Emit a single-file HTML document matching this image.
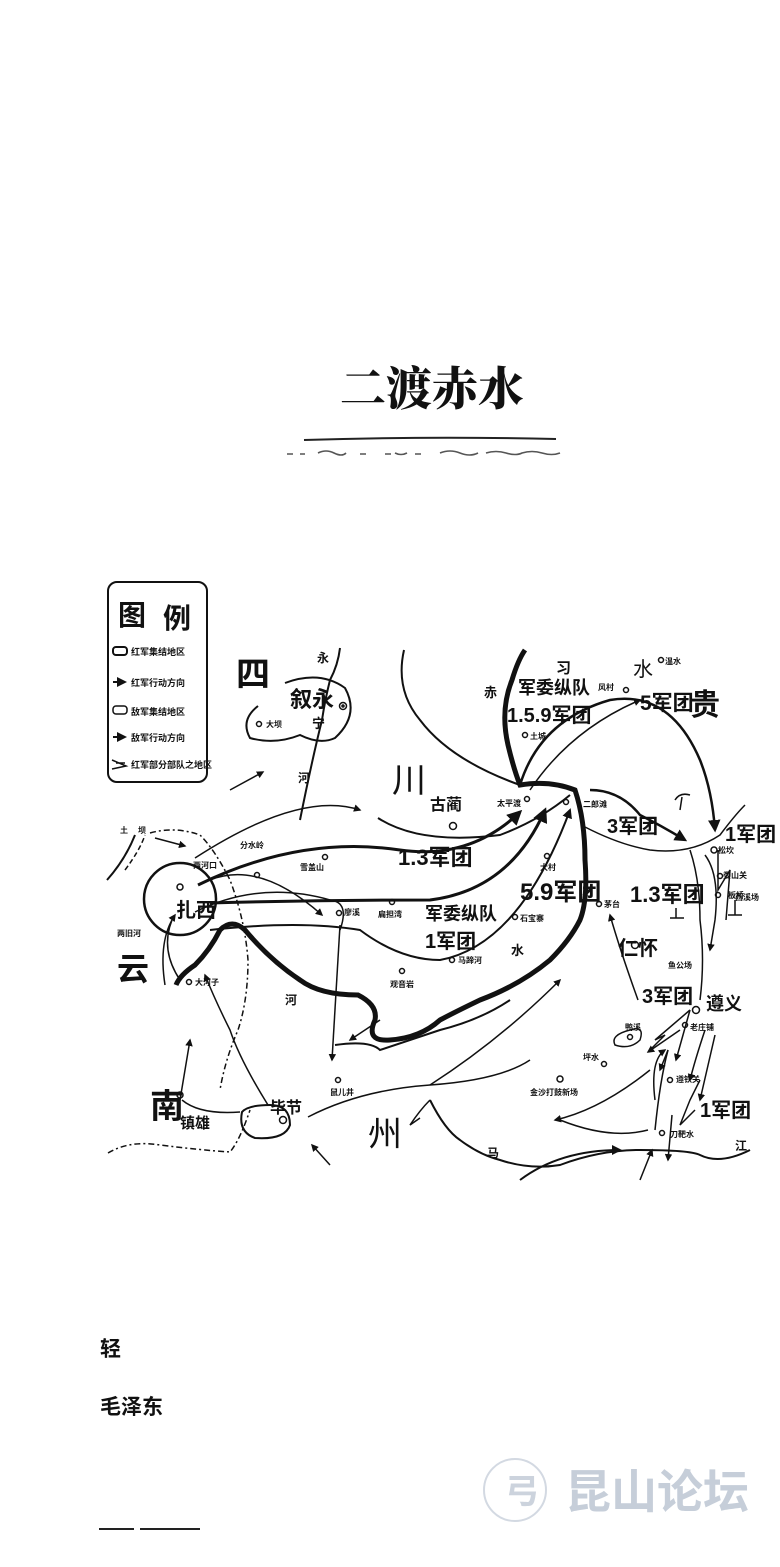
<!DOCTYPE html>
<html><head><meta charset="utf-8"><style>
html,body{margin:0;padding:0;background:#fff;}
svg{display:block}
text{font-family:"Liberation Sans","Noto Sans CJK SC",sans-serif;fill:#111;font-weight:bold}
</style></head><body>
<svg width="780" height="1567" viewBox="0 0 780 1567" xmlns="http://www.w3.org/2000/svg">
<defs>
<marker id="a" viewBox="0 0 10 10" refX="8" refY="5" markerWidth="5" markerHeight="5" orient="auto"><path d="M0,0L10,5L0,10z" fill="#111"/></marker>
</defs>
<rect width="780" height="1567" fill="#fff"/>
<!-- title -->
<text x="432" y="405" font-size="46" text-anchor="middle" style="font-family:'Noto Serif CJK SC',serif;font-weight:900">二渡赤水</text>
<path d="M304,440 Q430,436 556,439" stroke="#222" stroke-width="2" fill="none"/>
<path d="M287,454h6M300,454h5M318,453q8,-4 16,0t12,0M360,454h6M385,454h6M395,453q6,3 12,0M415,454h6M440,453q10,-4 20,0t18,0M486,453q10,-3 20,0t16,0q10,-3 20,0t18,0" stroke="#555" stroke-width="1.6" fill="none"/>

<!-- legend -->
<rect x="108" y="582" width="99" height="200" rx="9" fill="none" stroke="#111" stroke-width="2"/>
<text x="118" y="625" font-size="28">图</text><text x="163" y="628" font-size="28">例</text>
<g font-size="9" style="font-weight:900">
<rect x="113" y="647" width="14" height="8" rx="3" fill="none" stroke="#111" stroke-width="2"/><text x="131" y="655">红军集结地区</text>
<path d="M113,682h12" stroke="#111" stroke-width="2" marker-end="url(#a)"/><text x="131" y="686">红军行动方向</text>
<rect x="113" y="706" width="14" height="8" rx="3" fill="none" stroke="#111" stroke-width="1.5"/><text x="131" y="715">敌军集结地区</text>
<path d="M113,737h12" stroke="#111" stroke-width="2" marker-end="url(#a)"/><text x="131" y="741">敌军行动方向</text>
<path d="M112,760l14,6l-14,3M116,763h9" stroke="#111" stroke-width="1.5" fill="none"/><text x="131" y="768">红军部分部队之地区</text>
</g>

<g fill="none" stroke="#111">
<path d="M258,706 Q240,720 250,738 Q275,745 300,735 Q320,745 335,738 Q360,715 345,688 Q320,670 285,683" stroke-width="2"/>
<path d="M340,648 Q338,665 330,680 Q325,700 322,720 Q312,760 300,820" stroke-width="2"/>
<path d="M404,650 Q395,690 420,720 Q450,760 520,785" stroke-width="2"/>
<path d="M378,818 Q420,845 500,835 Q540,820 570,795" stroke-width="2"/>
<path d="M525,650 Q518,660 512,680 Q500,710 508,745 Q514,770 520,785 Q550,780 575,790 Q585,820 585,860 Q588,900 580,920 Q570,940 550,960 Q520,985 480,1000 Q455,1012 440,1020 Q420,1038 390,1040 Q365,1042 375,1020 Q378,1005 358,995 Q320,995 300,980 Q270,960 245,930 Q232,918 220,930 Q210,950 195,965 Q180,975 176,985" stroke-width="5"/>
<path d="M335,1045 Q370,1040 380,1050 Q410,1040 440,1030 Q480,1020 510,1000" stroke-width="2"/>
<circle cx="180" cy="899" r="36" stroke-width="2.5"/>
<path d="M198,885 Q300,835 400,850 Q470,860 520,812" stroke-width="3" marker-end="url(#a)"/>
<path d="M210,903 Q320,900 430,900 Q510,890 545,810" stroke-width="3" marker-end="url(#a)"/>
<path d="M210,930 Q300,920 360,930 Q400,960 440,960 Q520,945 570,810" stroke-width="2" marker-end="url(#a)"/>
<path d="M195,912 Q260,880 330,900 Q350,902 340,930" stroke-width="1.5"/>
<path d="M210,880 Q260,860 322,915" stroke-width="1.5" marker-end="url(#a)"/>
<path d="M195,858 Q300,790 360,810" stroke-width="1.5" marker-end="url(#a)"/>
<path d="M230,790 L263,772" stroke-width="1.5" marker-end="url(#a)"/>
<path d="M150,833 Q175,826 200,835 Q215,850 230,880 Q245,920 248,960 Q248,1000 238,1030 Q225,1060 220,1090" stroke-width="1.5" stroke-dasharray="6,3,2,3"/>
<path d="M107,880 Q125,860 135,835" stroke-width="2"/>
<path d="M125,870 Q140,850 145,835" stroke-width="1.5" stroke-dasharray="5,3"/>
<path d="M155,838 L185,846" stroke-width="1.5" marker-end="url(#a)"/>
<path d="M172,920 Q160,950 180,980" stroke-width="1.5"/>
<path d="M165,985 Q158,940 175,915" stroke-width="1.5" marker-end="url(#a)"/>
<path d="M180,1100 L190,1040" stroke-width="1.5" marker-end="url(#a)"/>
<path d="M268,1105 Q240,1060 230,1030 Q215,1000 205,975" stroke-width="1.5" marker-end="url(#a)"/>
<path d="M182,1100 Q200,1115 240,1112" stroke-width="1.5"/>
<path d="M242,1112 Q238,1132 255,1138 Q285,1140 290,1125 Q290,1105 270,1105 Q248,1105 242,1112z" stroke-width="2"/>
<path d="M108,1153 Q130,1140 160,1145 Q200,1150 230,1152 Q240,1140 250,1110" stroke-width="1.5" stroke-dasharray="6,3,2,3"/>
<path d="M330,1165 L312,1145" stroke-width="1.5" marker-end="url(#a)"/>
<path d="M308,1117 Q360,1090 430,1085 Q500,1080 530,1060" stroke-width="1.5"/>
<path d="M340,925 L332,1060" stroke-width="1.5" marker-end="url(#a)"/>
<path d="M380,1020 L350,1040" stroke-width="1.5" marker-end="url(#a)"/>
<path d="M430,1100 Q445,1130 460,1140 Q480,1155 500,1160 Q530,1170 560,1165 Q600,1150 640,1150 Q690,1150 700,1155 Q720,1165 750,1150" stroke-width="2"/>
<path d="M420,1118 L410,1125 Q420,1110 430,1100" stroke-width="1.5"/>
<path d="M430,1085 Q500,1040 560,980" stroke-width="1.5" marker-end="url(#a)"/>
<path d="M520,1180 Q560,1150 620,1150" stroke-width="2" marker-end="url(#a)"/>
<path d="M648,1130 Q610,1140 560,1120" stroke-width="1.5"/>
<path d="M650,1070 Q600,1110 555,1120" stroke-width="1.5" marker-end="url(#a)"/>
<path d="M520,785 Q540,720 610,700 Q670,690 700,760 Q712,790 715,830" stroke-width="2.5" marker-end="url(#a)"/>
<path d="M530,790 Q570,730 640,700" stroke-width="1.5" marker-end="url(#a)"/>
<path d="M590,790 Q620,790 640,815 Q660,825 685,840" stroke-width="2.5" marker-end="url(#a)"/>
<path d="M585,827 Q620,845 650,850 Q690,855 720,835 Q735,815 745,805" stroke-width="1.5"/>
<path d="M675,800 Q680,792 690,795 M682,797 L680,810" stroke-width="1.5"/>
<path d="M690,850 Q700,880 700,920 Q705,960 700,1000" stroke-width="1.5"/>
<path d="M705,855 Q720,875 715,920 L710,950" stroke-width="1.5" marker-end="url(#a)"/>
<path d="M718,850 L718,890 L730,870 L726,920" stroke-width="1.5"/>
<path d="M638,1000 Q620,950 610,915" stroke-width="1.5" marker-end="url(#a)"/>
<path d="M630,1030 Q610,1035 615,1045 Q630,1050 640,1040 Q645,1025 630,1030z" stroke-width="1.5"/>
<path d="M690,1010 L655,1040 L665,1035 L650,1050" stroke-width="1.5"/>
<path d="M680,1030 L648,1052" stroke-width="1.5" marker-end="url(#a)"/>
<path d="M690,1010 L676,1060" stroke-width="1.5" marker-end="url(#a)"/>
<path d="M668,1050 Q660,1080 655,1130" stroke-width="1.5"/>
<path d="M668,1050 L660,1070" stroke-width="1.5" marker-end="url(#a)"/>
<path d="M705,1030 Q695,1060 690,1080" stroke-width="1.5" marker-end="url(#a)"/>
<path d="M700,1080 L690,1100 L680,1125 L695,1110" stroke-width="1.5"/>
<path d="M715,1035 L700,1100" stroke-width="1.5" marker-end="url(#a)"/>
<path d="M672,1115 L668,1160" stroke-width="1.5" marker-end="url(#a)"/>
<path d="M640,1180 L652,1150" stroke-width="1.5" marker-end="url(#a)"/>
<path d="M655,1100 Q650,1060 665,1050" stroke-width="1.5" marker-end="url(#a)"/>
<path d="M728,915 h14 M735,915 v-15" stroke-width="1.5"/>
<path d="M670,918 h14 M676,918 v-10" stroke-width="1.5"/>
</g>

<g fill="none" stroke="#111" stroke-width="1.5">
<circle cx="259" cy="724" r="2.5"/><circle cx="343" cy="706" r="3.5"/><circle cx="343" cy="706" r="1"/>
<circle cx="257" cy="875" r="2.5"/><circle cx="325" cy="857" r="2.5"/><circle cx="180" cy="887" r="3"/>
<circle cx="453" cy="826" r="3.5"/><circle cx="525" cy="735" r="2.5"/><circle cx="527" cy="799" r="2.5"/><circle cx="566" cy="802" r="2.5"/>
<circle cx="547" cy="856" r="2.5"/><circle cx="515" cy="917" r="2.5"/><circle cx="599" cy="904" r="2.5"/>
<circle cx="339" cy="913" r="2.5"/><circle cx="392" cy="902" r="2.5"/><circle cx="402" cy="971" r="2.5"/><circle cx="452" cy="960" r="2.5"/>
<circle cx="189" cy="982" r="2.5"/><circle cx="180" cy="1095" r="3"/><circle cx="283" cy="1120" r="3.5"/><circle cx="338" cy="1080" r="2.5"/>
<circle cx="635" cy="945" r="3.5"/><circle cx="696" cy="1010" r="3.5"/><circle cx="685" cy="1025" r="2.5"/><circle cx="630" cy="1037" r="2.5"/>
<circle cx="604" cy="1064" r="2.5"/><circle cx="560" cy="1079" r="3"/><circle cx="670" cy="1080" r="2.5"/><circle cx="662" cy="1133" r="2.5"/>
<circle cx="714" cy="850" r="3"/><circle cx="720" cy="876" r="2.5"/><circle cx="718" cy="895" r="2.5"/>
<circle cx="661" cy="660" r="2.5"/><circle cx="626" cy="690" r="2.5"/>
</g>

<text x="236" y="686" font-size="34">四</text>
<text x="392" y="792" font-size="34" style="font-weight:normal">川</text>
<text x="117" y="980" font-size="32">云</text>
<text x="150" y="1118" font-size="34">南</text>
<text x="368" y="1146" font-size="34" style="font-weight:normal">州</text>
<text x="690" y="715" font-size="30">贵</text>
<text x="176" y="917" font-size="20">扎西</text>
<text x="290" y="707" font-size="22">叙永</text>
<text x="312" y="728" font-size="13">宁</text>
<text x="317" y="662" font-size="12">永</text>
<text x="298" y="782" font-size="12">河</text>
<text x="285" y="1004" font-size="12">河</text>
<text x="511" y="955" font-size="13">水</text>
<text x="484" y="697" font-size="13">赤</text>
<text x="556" y="673" font-size="15">习</text>
<text x="633" y="676" font-size="20" style="font-weight:normal">水</text>
<text x="487" y="1157" font-size="12">马</text>
<text x="735" y="1150" font-size="12">江</text>
<text x="430" y="810" font-size="16">古蔺</text>
<text x="618" y="955" font-size="20">仁怀</text>
<text x="706" y="1010" font-size="18">遵义</text>
<text x="270" y="1113" font-size="16">毕节</text>
<text x="180" y="1128" font-size="15">镇雄</text>

<g>
<text x="518" y="694" font-size="18">军委纵队</text>
<text x="507" y="722" font-size="20">1.5.9军团</text>
<text x="640" y="710" font-size="21">5军团</text>
<text x="398" y="865" font-size="22">1.3军团</text>
<text x="520" y="900" font-size="24">5.9军团</text>
<text x="425" y="920" font-size="18">军委纵队</text>
<text x="425" y="948" font-size="20">1军团</text>
<text x="607" y="833" font-size="20">3军团</text>
<text x="630" y="902" font-size="22">1.3军团</text>
<text x="725" y="841" font-size="20">1军团</text>
<text x="642" y="1003" font-size="20">3军团</text>
<text x="700" y="1117" font-size="20">1军团</text>
</g>

<g font-size="8">
<text x="266" y="727">大坝</text><text x="120" y="833">土</text><text x="138" y="833">坝</text>
<text x="240" y="848">分水岭</text><text x="193" y="868">两河口</text><text x="300" y="870">雪盖山</text>
<text x="344" y="915">廖溪</text><text x="378" y="917">扁担湾</text><text x="390" y="987">观音岩</text><text x="458" y="963">马蹄河</text>
<text x="117" y="936">两旧河</text><text x="195" y="985">大河子</text><text x="330" y="1095">鼠儿井</text>
<text x="530" y="739">土城</text><text x="497" y="806">太平渡</text><text x="583" y="807">二郎滩</text><text x="540" y="870">大村</text>
<text x="520" y="921">石宝寨</text><text x="604" y="907">茅台</text><text x="598" y="690">风村</text><text x="665" y="664">温水</text>
<text x="718" y="853">松坎</text><text x="723" y="878">娄山关</text><text x="728" y="898">板桥</text><text x="735" y="900">西溪场</text>
<text x="668" y="968">鱼公场</text><text x="625" y="1030">鸭溪</text><text x="690" y="1030">老庄铺</text><text x="583" y="1060">坪水</text>
<text x="530" y="1095">金沙打鼓新场</text><text x="676" y="1082">遵铁关</text><text x="670" y="1137">刀靶水</text>
</g>

<text x="100" y="1356" font-size="21" style="font-weight:bold">轻</text>
<text x="100" y="1414" font-size="21" style="font-weight:bold">毛泽东</text>
<path d="M99,1529h35M140,1529h60" stroke="#222" stroke-width="2"/>
<circle cx="515" cy="1490" r="31" fill="none" stroke="#d3d9e2" stroke-width="2"/>
<text x="505" y="1503" font-size="34" style="fill:#ccd3dd">弓</text>
<text x="565" y="1508" font-size="46" style="fill:#c6ced9;font-weight:bold">昆山论坛</text>
</svg>
</body></html>
